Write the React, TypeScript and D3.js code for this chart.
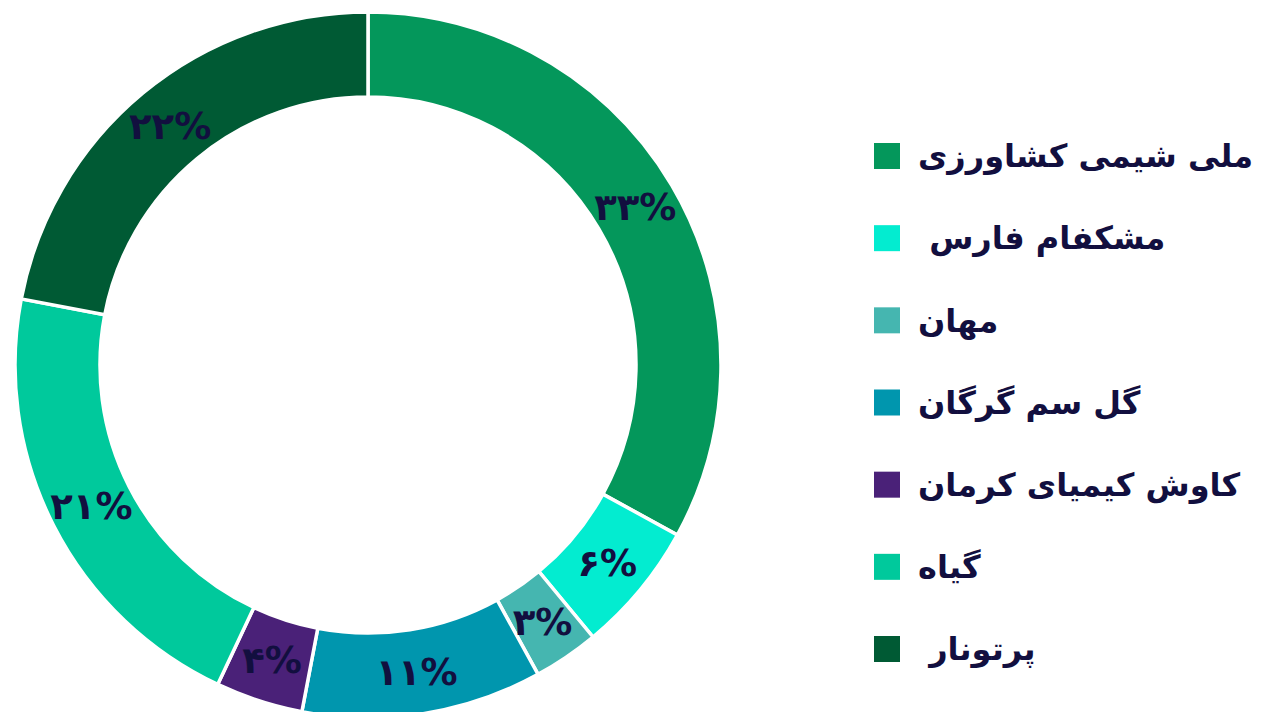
import React from "react";
import * as d3 from "d3";

const categories = ["ملی شیمی کشاورزی", " مشکفام فارس", "مهان", "گل سم گرگان", "کاوش کیمیای کرمان", "گیاه", " پرتونار"];
const values = [33, 6, 3, 11, 4, 21, 22];
const valueLabels = ["۳۳%", "۶%", "۳%", "۱۱%", "۴%", "۲۱%", "۲۲%"];
const colors = ["#04975b", "#03ecd0", "#45b6b0", "#0096ae", "#4a2178", "#00c99c", "#005a34"];

const W = 1265;
const H = 712;
const cx = 368;
const cy = 365;
const outerR = 353;
const innerR = 268;
const textColor = "#120f3f";
const font = "'DejaVu Sans', sans-serif";

export default function App() {
  const pie = d3.pie<number>().sort(null).value((d) => d)(values);
  const arc = d3.arc<d3.PieArcDatum<number>>().innerRadius(innerR).outerRadius(outerR);
  const labelArc = d3.arc<d3.PieArcDatum<number>>().innerRadius((innerR + outerR) / 2).outerRadius((innerR + outerR) / 2);
  const legendY = d3.scaleLinear().domain([0, categories.length - 1]).range([156, 649]);

  return (
    <svg width={W} height={H} style={{ position: "absolute", left: 0, top: 0, background: "#fff" }}>
      <g transform={`translate(${cx},${cy})`}>
        {pie.map((p, i) => (
          <path key={i} d={arc(p) || ""} fill={colors[i]} stroke="#fff" strokeWidth={3.5} />
        ))}
        {pie.map((p, i) => {
          const [x, y] = labelArc.centroid(p);
          return (
            <text key={i} x={x} y={y} dy="0.35em" textAnchor="middle" fontFamily={font} fontWeight="bold" fontSize={37} fill={textColor}>
              {valueLabels[i]}
            </text>
          );
        })}
      </g>
      <g>
        {categories.map((c, i) => (
          <g key={i} transform={`translate(0,${legendY(i)})`}>
            <rect x={874} y={-13} width={26} height={26} fill={colors[i]} />
            <text x={918} y={0} dy="0.35em" fontFamily={font} fontWeight="bold" fontSize={32} fill={textColor} style={{ whiteSpace: "pre" }}>
              {c}
            </text>
          </g>
        ))}
      </g>
    </svg>
  );
}
